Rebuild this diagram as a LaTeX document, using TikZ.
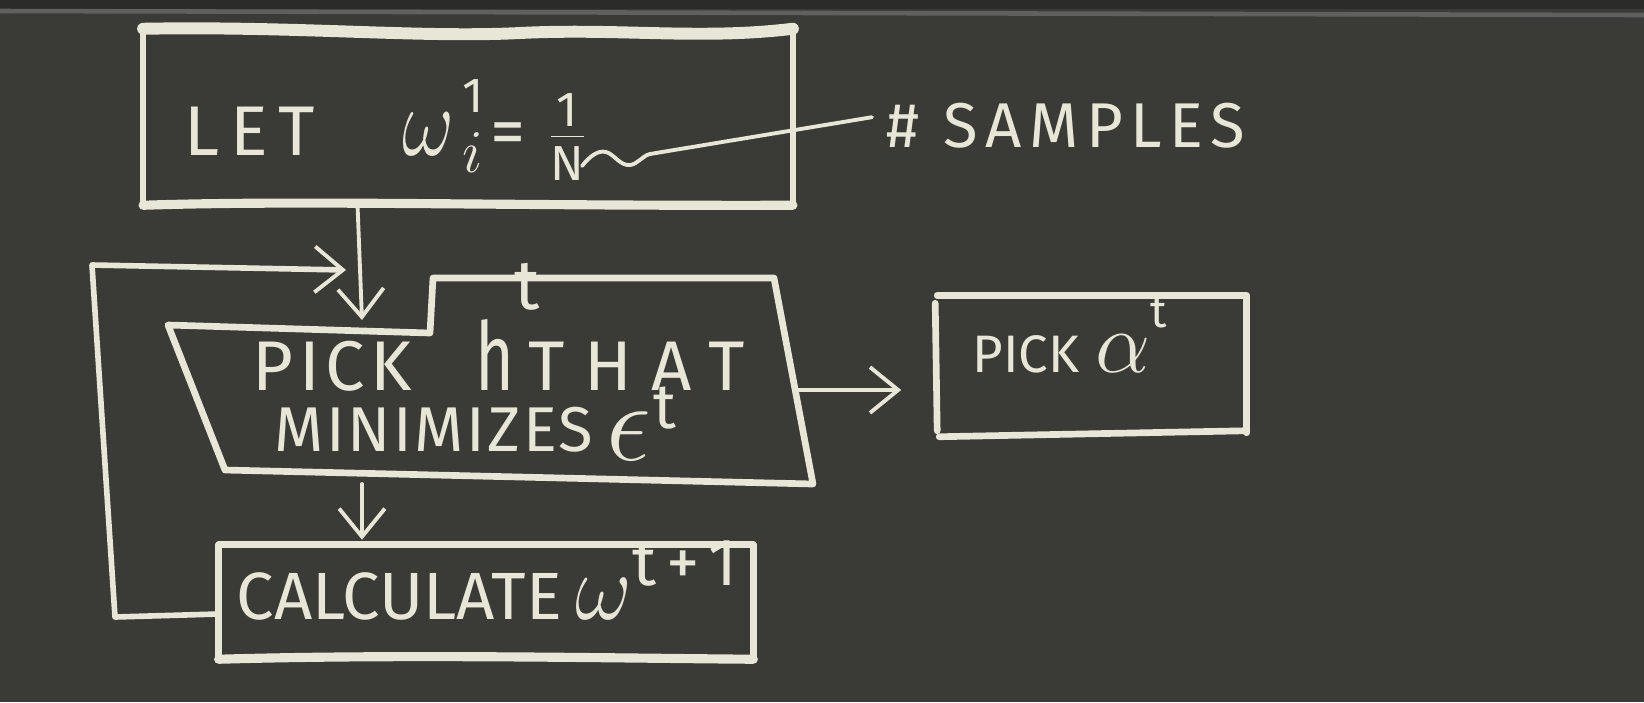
\documentclass[tikz,border=0pt]{standalone}
\usepackage{graphicx}
\usepackage{fontspec}
\setmainfont{Fira Sans}
\usetikzlibrary{arrows.meta,calc}
\definecolor{board}{HTML}{3A3A37}
\definecolor{boardtop}{HTML}{2B2B2A}
\definecolor{chalk}{HTML}{E8E6D6}
\newcommand{\ls}[1]{\addfontfeature{LetterSpace=#1}}
\newcommand{\fs}[1]{\fontsize{#1}{#1}\selectfont}
\newcommand{\chalkmath}[3]{\scalebox{#1}[#2]{\fs{20}$#3$}}
\begin{document}
\begin{tikzpicture}[x=0.01cm,y=-0.01cm,
  chalkline/.style={draw=chalk,line width=1.9pt,line cap=round,line join=round},
  thinchalk/.style={draw=chalk,line width=1.1pt,line cap=round,line join=round},
  arr/.style={thinchalk,-{Straight Barb[length=8pt,width=13pt,line width=1.1pt]}},
  txt/.style={text=chalk,inner sep=0pt,anchor=base west},
  box/.style={draw=none,rectangle,inner sep=0pt}]
\useasboundingbox (0,0) rectangle (1644,702);
\fill[board] (0,0) rectangle (1644,702);
\fill[boardtop] (0,0) rectangle (1644,9);
\draw[gray!55!board,line width=1.3pt] (0,11) -- (1644,15);

% ---- initial box
\node[box,minimum width=6.48cm,minimum height=1.75cm] (init) at (468,117) {};
\draw[chalkline] (init.north west) -- (init.south west);
\draw[chalkline] (init.north east) -- (init.south east);
\draw[chalkline,line width=3.4pt] (init.north west) .. controls (300,26) and (420,38) .. (520,33) .. controls (620,28) and (700,40) .. (init.north east);
\draw[chalkline,line width=2.6pt] (init.south west) .. controls (300,200) and (500,206) .. (init.south east);
\node[txt,font=\fs{20}] (letw) at (184,155)
  {{\ls{15}LET}\hspace{1.25em}\chalkmath{1.1}{1.35}{\omega}\hspace{0.12em}\rlap{\raisebox{0.6em}{\fs{14}1}}\raisebox{-0.25em}{\fs{16}$i$}\hspace{0.1em}=\hspace{0.3em}$\frac{\mbox{\fs{14}1}}{\mbox{\fs{14}N}}$};
\node[txt,font=\fs{18}] (samples) at (886,147) {\ls{12}\# SAMPLES};
\coordinate (sq) at (582,166);
\draw[thinchalk] (sq) .. controls (590,156) and (598,150) .. (606,152) .. controls (614,154) and (620,166) .. (630,165) .. controls (638,164) and (642,156) .. (650,154) -- ($(samples.west)+(-14,-8)$);

% ---- pick h box
\coordinate (p1) at (168,325);
\coordinate (p2) at (430,333);
\coordinate (p3) at (433,278);
\coordinate (p4) at (774,278);
\coordinate (p5) at (813,484);
\coordinate (p6) at (225,470);
\draw[chalkline] (p1) -- (p2) -- (p3) -- (p4) -- (p5) -- (p6) -- cycle;
\node[txt,font=\fs{20}] (pickh) at (252,390)
  {{\ls{8}PICK}\hspace{0.9em}{\fs{27}\scalebox{0.7}[1]{h}}\rlap{\raisebox{1.15em}{t}}\hspace{0.2em}{\ls{28}THAT}};
\node[txt,font=\fs{18}] (minim) at (274,451)
  {{\ls{4}MINIMIZES}\hspace{0.2em}\raisebox{-0.15em}{\chalkmath{1.55}{1.55}{\epsilon}}\hspace{0.05em}\raisebox{0.35em}{t}};

% ---- pick alpha box
\node[box,minimum width=3.08cm,minimum height=1.36cm] (alpha) at (1092,364) {};
\draw[chalkline] (alpha.north west) -- (alpha.north east) -- (alpha.south east);
\draw[chalkline] ($(alpha.north west)+(-2,8)$) -- ($(alpha.south west)+(0,-2)$);
\draw[chalkline] ($(alpha.south west)+(2,4)$) -- ($(alpha.south east)+(0,-2)$);
\node[txt,font=\fs{15}] (pickalpha) at (972,372)
  {PICK\hspace{0.3em}\chalkmath{1.2}{1.2}{\alpha}\raisebox{0.85em}{\fs{13}t}};

% ---- calculate box
\node[box,minimum width=5.33cm,minimum height=1.13cm] (calc) at (486,602) {};
\draw[chalkline] (calc.north west) -- (calc.north east) -- (calc.south east);
\draw[chalkline] (calc.north west) -- (calc.south west);
\draw[chalkline,line width=2.6pt] (calc.south west) .. controls (400,654) and (600,658) .. (calc.south east);
\node[txt,font=\fs{19}] (calctxt) at (236,619)
  {CALCULATE\hspace{0.2em}\chalkmath{1.2}{1.3}{\omega}\raisebox{0.5em}{\ls{20}t+1}};

% ---- connectors
\coordinate (initout) at ($(init.south west)!0.33!(init.south east)$);
\coordinate (pickin) at (362,320);
\draw[arr] (initout) -- (pickin);
\coordinate (loopS) at ($(calc.west)+(0,12)$);
\coordinate (loopE) at (346,270);
\draw[arr,line width=1.6pt] (loopS) -- (115,617) -- (92,265) -- (loopE);
\coordinate (pickR) at (797,390);
\draw[arr] (pickR) -- ($(pickR -| alpha.west)+(-36,0)$);
\coordinate (pickB) at (362,484);
\draw[arr] (pickB) -- ($(pickB |- calc.north)+(0,-5)$);
\end{tikzpicture}
\end{document}
